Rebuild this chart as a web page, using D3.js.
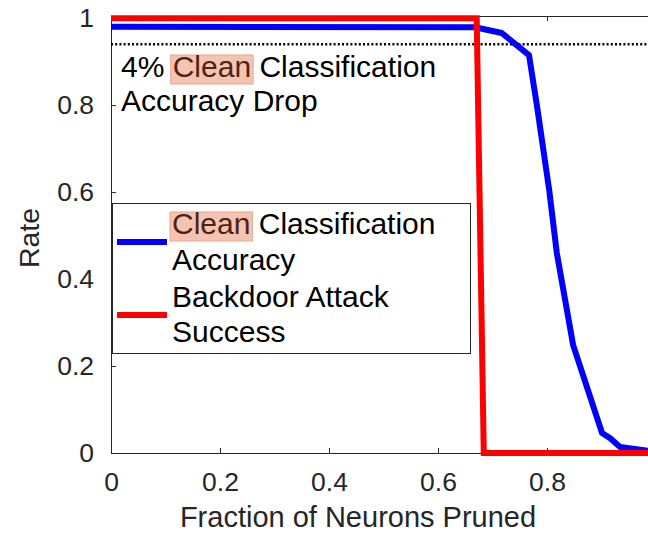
<!DOCTYPE html>
<html>
<head>
<meta charset="utf-8">
<script src="https://cdn.jsdelivr.net/npm/d3@7"></script>
<style>
  body { margin: 0; background: #fff; }
  text { font-family: "Liberation Sans", Arial, Helvetica, sans-serif; }
</style>
</head>
<body>
<div id="chart"></div>
<script>
// values
var pruned = [0, 0.668, 0.717, 0.767, 0.782, 0.804, 0.818, 0.848, 0.901, 0.916, 0.934, 0.985, 1.0];
var cleanAcc = [0.98, 0.979, 0.966, 0.915, 0.795, 0.605, 0.46, 0.248, 0.046, 0.034, 0.014, 0.005, 0.005];
var prunedBd = [0, 0.671, 0.684, 1.0];
var attackSuccess = [1, 1, 0, 0];
var dropLevel = 0.94;
var xTicks = [0, 0.2, 0.4, 0.6, 0.8];
var yTicks = [0, 0.2, 0.4, 0.6, 0.8, 1];
var legendLines = [["Clean", " Classification"], ["Accuracy"], ["Backdoor Attack"], ["Success"]];
var noteLines = [["4% ", "Clean", " Classification"], ["Accuracy Drop"]];

var W = 648, H = 534;
var axisColor = "#262626";

var svg = d3.select("#chart").append("svg")
    .attr("width", W)
    .attr("height", H);

var x = d3.scaleLinear().domain([0, 1]).range([111, 656]);
var y = d3.scaleLinear().domain([0, 1.005]).range([453, 16]);

var fmt = function(d) { return d === 0 ? "0" : d3.format(".1~f")(d); };

// axes (ticks point inward like matlab)
var gx = svg.append("g")
    .attr("transform", "translate(0," + y(0) + ")")
    .call(d3.axisBottom(x).tickValues(xTicks).tickFormat(fmt)
        .tickSizeInner(-5).tickSizeOuter(0).tickPadding(19));
var gxTop = svg.append("g")
    .attr("transform", "translate(0," + y(1.005) + ")")
    .call(d3.axisTop(x).tickValues(xTicks).tickFormat("")
        .tickSizeInner(-5).tickSizeOuter(0));
var gy = svg.append("g")
    .attr("transform", "translate(" + x(0) + ",0)")
    .call(d3.axisLeft(y).tickValues(yTicks).tickFormat(fmt)
        .tickSizeInner(-5).tickSizeOuter(0).tickPadding(17));

[gx, gxTop, gy].forEach(function(g) {
    g.select(".domain").attr("stroke", axisColor);
    g.selectAll(".tick line").attr("stroke", axisColor);
    g.selectAll(".tick text")
        .attr("fill", axisColor)
        .style("font-size", "26.5px")
        .style("font-family", '"Liberation Sans", Arial, sans-serif');
});

// axis labels
svg.append("text")
    .attr("x", 358).attr("y", 527)
    .attr("text-anchor", "middle")
    .attr("fill", axisColor)
    .style("font-size", "29px")
    .text("Fraction of Neurons Pruned");

svg.append("text")
    .attr("transform", "translate(39,238) rotate(-90)")
    .attr("text-anchor", "middle")
    .attr("fill", axisColor)
    .style("font-size", "28.5px")
    .text("Rate");

// 4% drop threshold
svg.append("line")
    .attr("x1", x(0)).attr("x2", W)
    .attr("y1", y(dropLevel)).attr("y2", y(dropLevel))
    .attr("stroke", "#000")
    .attr("stroke-width", 2.5)
    .attr("stroke-dasharray", "2,2.2");

var line = d3.line()
    .x(function(d) { return x(d[0]); })
    .y(function(d) { return y(d[1]); });

svg.append("path")
    .datum(d3.zip(pruned, cleanAcc))
    .attr("d", line)
    .attr("fill", "none")
    .attr("stroke", "#0000ff")
    .attr("stroke-width", 6)
    .attr("stroke-linejoin", "round");

svg.append("path")
    .datum(d3.zip(prunedBd, attackSuccess))
    .attr("d", line)
    .attr("fill", "none")
    .attr("stroke", "#ff0000")
    .attr("stroke-width", 6)
    .attr("stroke-linejoin", "miter");

// writes lines of text, highlighting the word "Clean"
function writeLines(g, lines, x0, baselines) {
    lines.forEach(function(parts, i) {
        var t = g.append("text")
            .attr("x", x0).attr("y", baselines[i])
            .style("font-size", "30px")
            .attr("fill", "#000");
        var spans = parts.map(function(p) {
            return t.append("tspan").text(p);
        });
        parts.forEach(function(p, j) {
            if (p !== "Clean") return;
            var node = t.node();
            var start = 0;
            for (var k = 0; k < j; k++) start += parts[k].length;
            var x1 = x0 + (start > 0 ? node.getSubStringLength(0, start) : 0);
            var w = node.getSubStringLength(start, p.length);
            g.insert("rect", "text")
                .attr("x", x1 - 2).attr("y", baselines[i] - 22)
                .attr("width", w + 4).attr("height", 29)
                .attr("fill", "#f5c3b0")
                .attr("stroke", "#e6a78f")
                .attr("stroke-width", 1);
            spans[j].attr("fill", "#4d2316");
        });
    });
}

var note = svg.append("g");
writeLines(note, noteLines, 121, [77, 111]);

// legend
var leg = svg.append("g");
leg.append("rect")
    .attr("x", 112.5).attr("y", 203.5)
    .attr("width", 358).attr("height", 150)
    .attr("fill", "#fff")
    .attr("stroke", axisColor)
    .attr("stroke-width", 1);
leg.append("line")
    .attr("x1", 117).attr("x2", 167).attr("y1", 242).attr("y2", 242)
    .attr("stroke", "#0000ff").attr("stroke-width", 6);
leg.append("line")
    .attr("x1", 117).attr("x2", 167).attr("y1", 315).attr("y2", 315)
    .attr("stroke", "#ff0000").attr("stroke-width", 6);
writeLines(leg, legendLines, 172, [234, 270, 307, 342]);
</script>
</body>
</html>
